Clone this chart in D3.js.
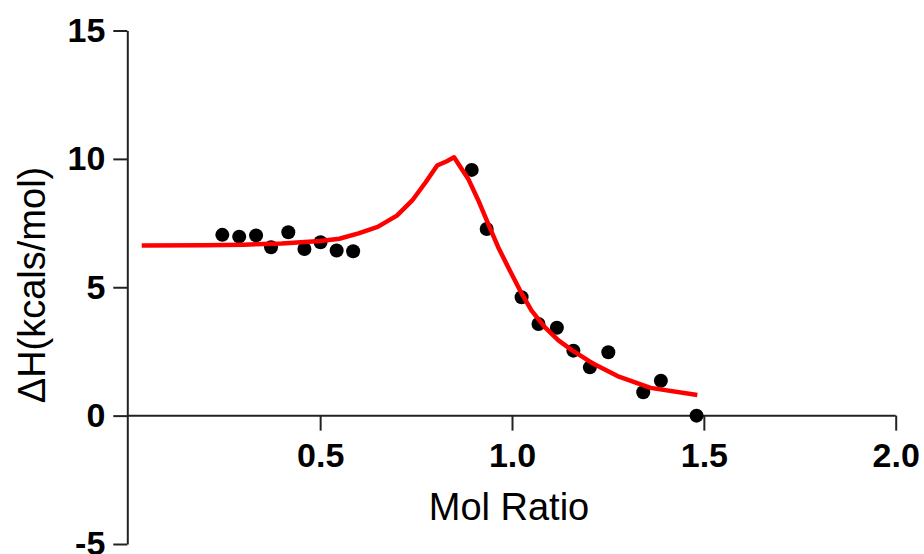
<!DOCTYPE html>
<html>
<head>
<meta charset="utf-8">
<script src="https://cdn.jsdelivr.net/npm/d3@7"></script>
<style>
  html, body { margin: 0; padding: 0; background: #fff; }
  svg { display: block; }
  text { font-family: "Liberation Sans", Arial, sans-serif; fill: #000; }
</style>
</head>
<body>
<svg id="chart" width="924" height="554"></svg>
<script>
// Titration injections: molar ratio vs. heat per injection
const molRatio = [0.245, 0.289, 0.333, 0.372, 0.417, 0.459, 0.501, 0.543, 0.586,
                  0.895, 0.934, 1.025, 1.069, 1.117, 1.160, 1.203, 1.251, 1.342, 1.388, 1.481];
const deltaH   = [7.04, 6.97, 7.02, 6.56, 7.14, 6.49, 6.75, 6.43, 6.40,
                  9.57, 7.27, 4.61, 3.57, 3.42, 2.53, 1.88, 2.47, 0.91, 1.36, 0.00];

// Fitted binding model, sampled
const fitRatio = [0.035, 0.2, 0.3, 0.4, 0.45, 0.5, 0.55, 0.6, 0.65, 0.7, 0.74, 0.775, 0.805,
                  0.83, 0.849, 0.886, 0.912, 0.938, 0.964, 0.990, 1.021, 1.051, 1.086, 1.121,
                  1.156, 1.190, 1.206, 1.275, 1.361, 1.483];
const fitDH    = [6.63, 6.64, 6.66, 6.70, 6.75, 6.80, 6.89, 7.10, 7.35, 7.79, 8.38, 9.09, 9.74,
                  9.91, 10.06, 9.22, 8.39, 7.47, 6.56, 5.78, 4.87, 4.09, 3.44, 2.93,
                  2.55, 2.23, 2.07, 1.54, 1.08, 0.80];

const xTicks = [0.5, 1.0, 1.5, 2.0];
const yTicks = [-5, 0, 5, 10, 15];

const svg = d3.select("#chart");
const axisColor = "#222";

const x = d3.scaleLinear().domain([0, 2]).range([128.3, 895.7]);
const y = d3.scaleLinear().domain([-5, 15]).range([544, 30.5]);

// Y axis on the left (plain hyphen for negatives)
const yAxis = svg.append("g")
  .attr("transform", `translate(${x(0) - 1},0)`)
  .call(d3.axisLeft(y).tickValues(yTicks).tickSize(14).tickSizeOuter(0).tickPadding(8)
        .tickFormat(d => String(d)));

// X axis along y = 0, ticks pointing down
const xAxis = svg.append("g")
  .attr("transform", `translate(0,${y(0)})`)
  .call(d3.axisBottom(x).tickValues(xTicks).tickSize(15).tickSizeOuter(0).tickPadding(12)
        .tickFormat(d => d.toFixed(1)));
xAxis.select(".domain").attr("d", `M${x(0) - 1},0H${x(2)}`);

[yAxis, xAxis].forEach(g => {
  g.selectAll(".domain, .tick line").attr("stroke", axisColor).attr("stroke-width", 2);
  g.selectAll(".tick text")
    .style("font-family", "'Liberation Sans', Arial, sans-serif")
    .style("font-size", "34px")
    .style("font-weight", "bold")
    .attr("fill", "#000");
});

// Injection points
svg.append("g").selectAll("circle")
  .data(d3.zip(molRatio, deltaH))
  .join("circle")
  .attr("cx", d => x(d[0]))
  .attr("cy", d => y(d[1]))
  .attr("r", 7)
  .attr("fill", "#000");

// Fit curve on top of the points
const line = d3.line().x(d => x(d[0])).y(d => y(d[1]));
svg.append("path")
  .datum(d3.zip(fitRatio, fitDH))
  .attr("d", line)
  .attr("fill", "none")
  .attr("stroke", "#ff0000")
  .attr("stroke-width", 4.5)
  .attr("stroke-linejoin", "round");

// Axis titles
svg.append("text")
  .attr("x", 509)
  .attr("y", 520)
  .attr("text-anchor", "middle")
  .style("font-size", "38px")
  .text("Mol Ratio");

svg.append("text")
  .attr("transform", "translate(45,285) rotate(-90)")
  .attr("text-anchor", "middle")
  .style("font-size", "38px")
  .text("ΔH(kcals/mol)");
</script>
</body>
</html>
